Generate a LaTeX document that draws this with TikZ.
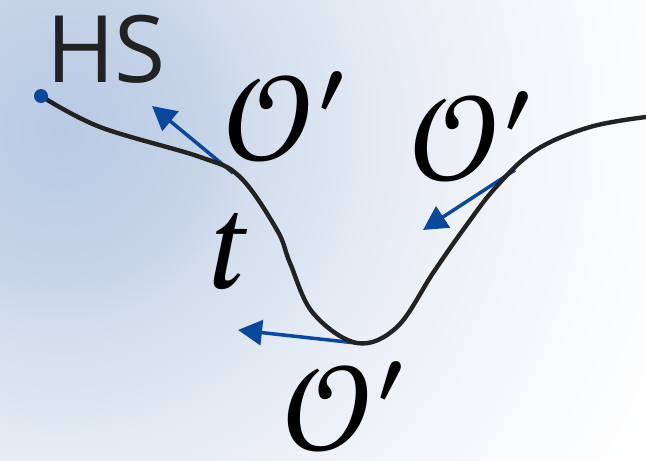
\documentclass[tikz,border=0pt]{standalone}
\usepackage{fontspec}
\newfontfamily\hsfont{Open Sans}
\newfontfamily\symfont{STIX Two Math}
\usetikzlibrary{arrows.meta}
\definecolor{bgblue}{RGB}{185,202,227}
\definecolor{flowblue}{RGB}{10,72,155}
\definecolor{pathgray}{RGB}{34,34,34}
\pgfdeclareradialshading{bgshade}{\pgfpoint{0bp}{0bp}}{%
  color(0bp)=(bgblue); color(40bp)=(bgblue!92!white);
  color(85bp)=(bgblue!80!white); color(113bp)=(bgblue!62!white);
  color(153bp)=(bgblue!50!white); color(181bp)=(bgblue!37!white);
  color(255bp)=(bgblue!20!white); color(340bp)=(bgblue!5!white);
  color(385bp)=(white); color(420bp)=(white)}

\begin{document}
\begin{tikzpicture}[x=0.02cm, y=-0.02cm,
    curve/.style={line width=2.5pt, pathgray, line cap=round},
    flow/.style={line width=2pt, flowblue, -{Triangle[length=0.48cm, width=0.5cm]}},
    oplab/.style={font=\symfont\fontsize{72}{80}\selectfont, inner sep=0pt, text depth=0pt},
    hslab/.style={font=\hsfont\fontsize{53}{60}\selectfont, text=pathgray, inner sep=0pt}
  ]
  \useasboundingbox (0,0) rectangle (646,460);
  % background, light blue fading to white
  \begin{scope}
    \clip (0,0) rectangle (646,460);
    \node[inner sep=0pt] at (60,130) {\pgfuseshading{bgshade}};
  \end{scope}

  % points on the path and free ends of the arrows
  \coordinate (s1) at (233,173);
  \coordinate (e1) at (152,106);
  \coordinate (s2) at (515,170);
  \coordinate (e2) at (423,230);
  \coordinate (s3) at (356,343);
  \coordinate (e3) at (238,330);

  \draw[flow] (s1) -- (e1);
  \draw[flow] (s2) -- (e2);
  \draw[flow] (s3) -- (e3);

  % the path
  \draw[curve] plot[smooth, tension=0.6] coordinates {
    (41,96) (100,127) (200,157) (240,177) (277,230) (290,263)
    (313,313) (357,343) (397,327) (433,273) (463,230) (496,187)
    (536,150) (590,127) (646,117)};

  \node[circle, fill=flowblue, inner sep=0pt, minimum size=0.28cm] (hs) at (41,96) {};

  \node[hslab] (hstext) at (106,49) {HS};
  \node[oplab, anchor=base] (op1) at (286,160) {𝒪′};
  \node[oplab, anchor=base] (op2) at (472,180) {𝒪′};
  \node[oplab, anchor=base] (op3) at (345,450) {𝒪′};
  \node[oplab, anchor=base] (time) at (229,288) {𝑡};
\end{tikzpicture}
\end{document}
